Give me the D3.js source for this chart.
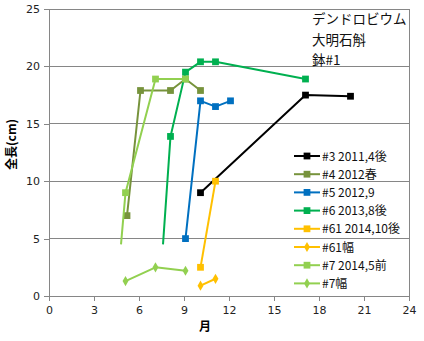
<!DOCTYPE html>
<html><head><meta charset="utf-8">
<script src="https://cdn.jsdelivr.net/npm/d3@7"></script>
<style>
html,body{margin:0;padding:0;background:#fff;}
svg{display:block;}
</style></head>
<body>
<svg id="c" width="424" height="341"></svg>
<script>
// ---- data ----
const xTicks = [0, 3, 6, 9, 12, 15, 18, 21, 24];
const yTicks = [0, 5, 10, 15, 20, 25];
const titleLines = ["デンドロビウム", "大明石斛", "鉢#1"];
const seriesNames = ["#3 2011,4後", "#4 2012春", "#5 2012,9", "#6 2013,8後", "#61 2014,10後", "#61幅", "#7 2014,5前", "#7幅"];
const s3x = [10.1, 17.1, 20.1],            s3y = [9.0, 17.5, 17.4];
const s4x = [5.2, 6.1, 8.1, 9.1, 10.1],    s4y = [7.0, 17.9, 17.9, 18.9, 17.9];
const s5x = [9.1, 10.1, 11.1, 12.1],       s5y = [5.0, 17.0, 16.5, 17.0];
const s6x = [7.6, 8.1, 9.1, 10.1, 11.1, 17.1], s6y = [4.5, 13.9, 19.5, 20.4, 20.4, 18.9];
const s61x = [10.1, 11.1],                 s61y = [2.5, 10.0];
const s61wx = [10.1, 11.1],                s61wy = [0.9, 1.5];
const s7x = [4.8, 5.1, 7.1, 9.1],          s7y = [4.5, 9.0, 18.9, 18.9];
const s7wx = [5.1, 7.1, 9.1],              s7wy = [1.3, 2.5, 2.2];

const seriesX = [s3x, s4x, s5x, s6x, s61x, s61wx, s7x, s7wx];
const seriesY = [s3y, s4y, s5y, s6y, s61y, s61wy, s7y, s7wy];
const colors = ["#000000", "#77933C", "#0070C0", "#00B050", "#FFC000", "#FFC000", "#92D050", "#92D050"];
const shapes = ["square", "square", "square", "square", "square", "diamond", "square", "diamond"];
const unmarkedFirst = [false, false, false, true, false, false, true, false];

// ---- layout ----
const svg = d3.select("#c");
const L = 49, R = 409, T = 9, B = 296;
const x = d3.scaleLinear().domain([0, 24]).range([L, R]);
const y = d3.scaleLinear().domain([0, 25]).range([B, T]);
const grid = "#868686";

svg.append("rect").attr("width", 424).attr("height", 341).attr("fill", "#fff");

// gridlines
svg.append("g").selectAll("line").data(yTicks.filter(d => d > 0)).join("line")
  .attr("x1", L).attr("x2", R).attr("y1", d => y(d)).attr("y2", d => y(d))
  .attr("stroke", grid).attr("stroke-width", 1).attr("shape-rendering", "crispEdges");
// right border
svg.append("line").attr("x1", R).attr("x2", R).attr("y1", T).attr("y2", B)
  .attr("stroke", grid).attr("shape-rendering", "crispEdges");

// axes
const fontTick = "'DejaVu Sans', Verdana, sans-serif";
const xAxis = svg.append("g").attr("transform", `translate(0,${B})`)
  .call(d3.axisBottom(x).tickValues(xTicks).tickSize(5).tickPadding(5).tickSizeOuter(0));
const yAxis = svg.append("g").attr("transform", `translate(${L},0)`)
  .call(d3.axisLeft(y).tickValues(yTicks).tickSize(5).tickPadding(4).tickSizeOuter(0));
[xAxis, yAxis].forEach(g => {
  g.select(".domain").attr("stroke", grid).attr("shape-rendering", "crispEdges");
  g.selectAll(".tick line").attr("stroke", grid).attr("shape-rendering", "crispEdges");
  g.selectAll(".tick text").attr("fill", "#222").style("font-family", fontTick).style("font-size", "11px");
});

// axis titles
svg.append("text").attr("transform", `translate(16,${(B + T) / 2 - 8}) rotate(-90)`)
  .attr("text-anchor", "middle").style("font-family", "'Noto Sans CJK JP', sans-serif")
  .style("font-size", "12px").style("font-weight", "bold").text("全長(cm)");
svg.append("text").attr("x", (L + R) / 2 - 24).attr("y", 331)
  .attr("text-anchor", "middle").style("font-family", "'Noto Sans CJK JP', sans-serif")
  .style("font-size", "12px").style("font-weight", "bold").text("月");

// annotation
svg.append("g").selectAll("text").data(titleLines).join("text")
  .attr("x", 312).attr("y", (d, i) => 24 + i * 20.5)
  .style("font-family", "'Noto Sans CJK JP', sans-serif").style("font-size", "13.5px")
  .attr("fill", "#111").text(d => d);

function marker(sel, shape, color) {
  const sym = shape === "square" ? d3.symbol(d3.symbolSquare, 46) : d3.symbol(d3.symbolDiamond, 30);
  sel.attr("d", sym).attr("fill", color).attr("stroke", "none");
}

// series
const line = d3.line().x(d => x(d[0])).y(d => y(d[1]));
seriesX.forEach((xs, i) => {
  const pts = xs.map((v, j) => [v, seriesY[i][j]]);
  const g = svg.append("g");
  g.append("path").attr("d", line(pts)).attr("fill", "none")
    .attr("stroke", colors[i]).attr("stroke-width", 2).attr("stroke-linejoin", "round");
  g.selectAll("path.m").data(pts.filter((p, j) => !(unmarkedFirst[i] && j === 0))).join("path")
    .attr("class", "m").attr("transform", d => `translate(${x(d[0])},${y(d[1])})`)
    .call(s => marker(s, shapes[i], colors[i]));
});

// legend
const lg = svg.append("g");
seriesNames.forEach((name, i) => {
  const yy = 156 + i * 18.2;
  lg.append("line").attr("x1", 294).attr("x2", 320).attr("y1", yy).attr("y2", yy)
    .attr("stroke", colors[i]).attr("stroke-width", 2);
  lg.append("path").attr("transform", `translate(307,${yy})`).call(s => marker(s, shapes[i], colors[i]));
  lg.append("text").attr("x", 322).attr("y", yy + 4.5)
    .style("font-family", "'Noto Sans CJK JP', sans-serif").style("font-size", "12px")
    .attr("fill", "#111").text(name);
});
</script>
</body></html>
